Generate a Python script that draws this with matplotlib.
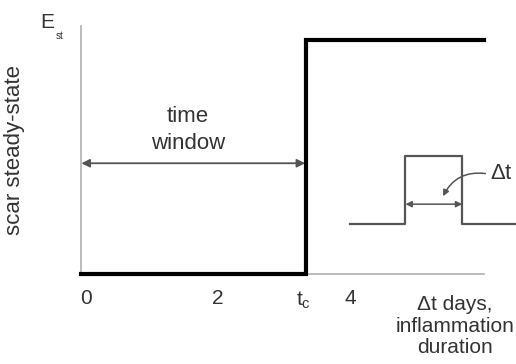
import matplotlib.pyplot as plt

plt.rcParams['font.family'] = ['Liberation Sans', 'DejaVu Sans']
plt.rcParams['mathtext.fontset'] = 'custom'
plt.rcParams['mathtext.rm'] = 'Liberation Sans'
plt.rcParams['mathtext.it'] = 'Liberation Sans'

# ---- data (days on x, scar steady-state on y) ----
t_c = 3.34
step_x = [-0.076, t_c, t_c, 6.03]
step_y = [0, 0, 1, 1]

tick_pos = [0, 2, 3.3, 4]
tick_lab = ['0', '2', r'$\mathregular{t_c}$', '4']

pulse_x = [4.0, 4.84, 4.84, 5.70, 5.70, 6.55]
pulse_y = [0.214, 0.214, 0.504, 0.504, 0.214, 0.214]
pulse_arrow_y = 0.299

txt_col = '#333333'
gray = '#555555'

fig = plt.figure(figsize=(5.16, 3.64), dpi=100)
ax = fig.add_axes([0.157, 0.247, 0.781, 0.681])
ax.set_xlim(-0.076, 6.03)
ax.set_ylim(0, 1.06)

for s in ['top', 'right']:
    ax.spines[s].set_visible(False)
for s in ['left', 'bottom']:
    ax.spines[s].set_color('#b0b0b0')
    ax.spines[s].set_linewidth(1.2)

ax.set_yticks([])
ax.set_xticks(tick_pos)
ax.set_xticklabels(tick_lab)
ax.tick_params(axis='x', length=0, pad=11, labelsize=15, labelcolor=txt_col)

ax.set_ylabel('scar steady-state', fontsize=16, color=txt_col)
ax.yaxis.set_label_coords(-0.139, 0.5)

# main step curve
ax.plot(step_x, step_y, color='black', lw=3, solid_joinstyle='miter',
        clip_on=False, zorder=3)

# time window arrow
ax.annotate('', xy=(-0.07, 0.474), xytext=(t_c - 0.02, 0.474),
            arrowprops=dict(arrowstyle='<|-|>', color=gray, lw=1.3,
                            mutation_scale=12, shrinkA=0, shrinkB=0))
ax.text(1.545, 0.615, 'time\nwindow', ha='center', va='center',
        fontsize=16, color=txt_col, linespacing=1.4)

# inflammation pulse inset
ax.plot(pulse_x, pulse_y, color=gray, lw=1.6, clip_on=False)
ax.annotate('', xy=(pulse_x[1], pulse_arrow_y), xytext=(pulse_x[3], pulse_arrow_y),
            arrowprops=dict(arrowstyle='<|-|>', color=gray, lw=1.1,
                            mutation_scale=9, shrinkA=0, shrinkB=0),
            annotation_clip=False)
ax.annotate('', xy=(5.41, 0.333), xytext=(6.05, 0.43),
            arrowprops=dict(arrowstyle='-|>', color=gray, lw=1.1,
                            mutation_scale=9, shrinkA=0, shrinkB=0,
                            connectionstyle='arc3,rad=0.35'),
            annotation_clip=False)
ax.text(6.12, 0.43, r'$\Delta$t', ha='left', va='center', fontsize=16,
        color=txt_col, clip_on=False)

ax.text(5.59, -0.222, 'Δt days,\ninflammation\nduration', ha='center',
        va='center', fontsize=15, color=txt_col, linespacing=1.15,
        clip_on=False)

ax.text(-0.58, 1.075, 'E', ha='center', va='center',
        fontsize=15, color=txt_col, clip_on=False)
ax.text(-0.46, 1.02, 'st', ha='left', va='center',
        fontsize=7, color=txt_col, clip_on=False)

fig.savefig('out.png', dpi=100)
